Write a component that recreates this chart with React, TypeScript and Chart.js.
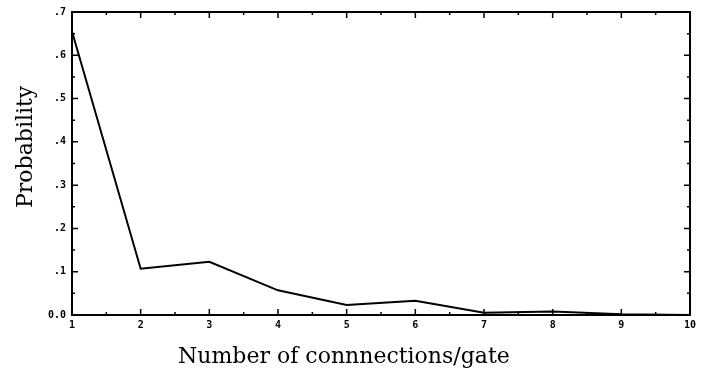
import React, { useEffect, useRef } from "react";
import { Chart, registerables } from "chart.js";

Chart.register(...registerables);

const connections = [1, 2, 3, 4, 5, 6, 7, 8, 9, 10];
const probability = [0.655, 0.107, 0.123, 0.057, 0.023, 0.033, 0.005, 0.008, 0.002, 0.0];
const yTickLabels: Record<string, string> = {
  "0": "0.0", "0.1": ".1", "0.2": ".2", "0.3": ".3", "0.4": ".4", "0.5": ".5", "0.6": ".6", "0.7": ".7",
};
const xTitle = "Number of connnections/gate";
const yTitle = "Probability";

const framePlugin = {
  id: "frame",
  afterDatasetsDraw(chart: any) {
    const { ctx, chartArea: a, scales } = chart;
    const xs = scales.x, ys = scales.y;
    ctx.save();
    ctx.strokeStyle = "#000";
    ctx.lineWidth = 2;
    ctx.strokeRect(a.left, a.top, a.right - a.left, a.bottom - a.top);
    ctx.lineWidth = 1.5;
    ctx.beginPath();
    for (let v = 1; v <= 10; v += 0.5) {
      const px = xs.getPixelForValue(v);
      const len = Number.isInteger(v) ? 6 : 3;
      ctx.moveTo(px, a.bottom); ctx.lineTo(px, a.bottom - len);
      ctx.moveTo(px, a.top); ctx.lineTo(px, a.top + len);
    }
    for (let i = 0; i <= 14; i++) {
      const v = i * 0.05;
      const py = ys.getPixelForValue(v);
      const len = i % 2 === 0 ? 6 : 3;
      ctx.moveTo(a.left, py); ctx.lineTo(a.left + len, py);
      ctx.moveTo(a.right, py); ctx.lineTo(a.right - len, py);
    }
    ctx.stroke();

    // axis titles
    ctx.fillStyle = "#000";
    ctx.font = "22px 'DejaVu Serif'";
    ctx.textAlign = "center";
    ctx.textBaseline = "alphabetic";
    ctx.fillText(xTitle, a.left + (a.right - a.left) * 0.44, a.bottom + 48);
    ctx.translate(32, a.top + (a.bottom - a.top) * 0.445);
    ctx.rotate(-Math.PI / 2);
    ctx.fillText(yTitle, 0, 0);
    ctx.restore();
  },
};

export default function App() {
  const ref = useRef<HTMLCanvasElement>(null);
  useEffect(() => {
    document.body.style.margin = "0";
    const chart = new Chart(ref.current!, {
      type: "line",
      data: {
        datasets: [
          {
            data: connections.map((c, i) => ({ x: c, y: probability[i] })),
            borderColor: "#000",
            borderWidth: 2,
            pointRadius: 0,
            tension: 0,
          },
        ],
      },
      options: {
        animation: false,
        responsive: false,
        devicePixelRatio: 1,
        layout: { padding: { top: 9, right: 14, left: 0, bottom: 0 } },
        plugins: { legend: { display: false }, tooltip: { enabled: false } },
        scales: {
          x: {
            type: "linear",
            min: 1,
            max: 10,
            grid: { display: false, drawTicks: false },
            border: { display: false },
            ticks: {
              stepSize: 1,
              padding: 4,
              color: "#000",
              font: { family: "DejaVu Sans Mono", weight: "bold", size: 10 },
              maxRotation: 0,
            },
            title: { display: false, text: xTitle },
            afterFit: (s: any) => { s.height = 60; },
          },
          y: {
            min: 0,
            max: 0.7,
            grid: { display: false, drawTicks: false },
            border: { display: false },
            ticks: {
              stepSize: 0.1,
              padding: 6,
              color: "#000",
              font: { family: "DejaVu Sans Mono", weight: "bold", size: 10 },
              callback: (v: any) => yTickLabels[String(Math.round(Number(v) * 10) / 10)] ?? "",
            },
            title: { display: false, text: yTitle },
            afterFit: (s: any) => { s.width = 72; },
          },
        },
      },
      plugins: [framePlugin],
    });
    return () => chart.destroy();
  }, []);
  return (
    <div style={{ width: 704, height: 375, background: "#fff" }}>
      <canvas ref={ref} width={704} height={375} style={{ display: "block" }} />
    </div>
  );
}
